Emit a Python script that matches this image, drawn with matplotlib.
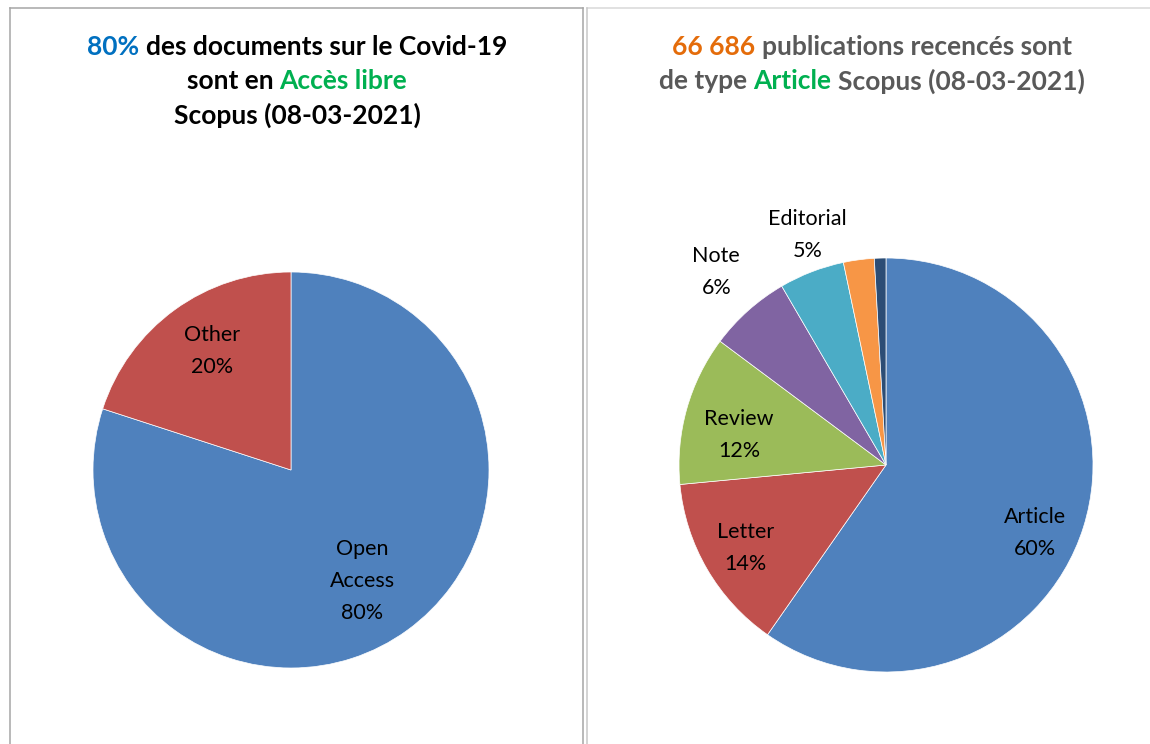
import matplotlib.pyplot as plt
from matplotlib.lines import Line2D

# data
oa_labels = ["Open\nAccess", "Other"]
oa_values = [80, 20]
oa_colors = ["#4F81BD", "#C0504D"]

type_labels = ["Article", "Letter", "Review", "Note", "Editorial", "", ""]
type_values = [59.7, 13.8, 11.7, 6.4, 5.1, 2.4, 0.9]
type_colors = ["#4F81BD", "#C0504D", "#9BBB59", "#8064A2", "#4BACC6", "#F79646", "#2C4D75"]
type_pct = ["60%", "14%", "12%", "6%", "5%", "", ""]
oa_pct = ["80%", "20%"]

# label positions (in units of pie radius)
oa_label_xy = [(0.36, -0.56), (-0.40, 0.60)]
type_label_xy = [(0.72, -0.33), (-0.68, -0.40), (-0.71, 0.145), (-0.82, 0.93), (-0.38, 1.11)]

W, H = 1150, 744
FONT = "Lato"
LS = 15.5   # label size
fig = plt.figure(figsize=(W / 100, H / 100), dpi=100)


def px_axes(cx, cy, r):
    # axes in pixel coords (y from top)
    return fig.add_axes([(cx - r) / W, (H - cy - r) / H, 2 * r / W, 2 * r / H])


# panel borders
def hline(x0, x1, y, c):
    fig.add_artist(Line2D([x0 / W, x1 / W], [1 - y / H, 1 - y / H], color=c, lw=1.1,
                          transform=fig.transFigure))


def vline(x, y0, y1, c):
    fig.add_artist(Line2D([x / W, x / W], [1 - y0 / H, 1 - y1 / H], color=c, lw=1.1,
                          transform=fig.transFigure))


hline(10, 583, 8, "#A6A6A6")
vline(10, 8, H, "#A6A6A6")
vline(583, 8, H, "#A6A6A6")
hline(587, W, 8, "#D9D9D9")
vline(587, 8, H, "#C8C8C8")

# left pie
ax1 = px_axes(291, 470, 198)
ax1.pie(oa_values, colors=oa_colors, startangle=90, counterclock=False,
        wedgeprops=dict(edgecolor="white", linewidth=0.5))
ax1.set_xlim(-1, 1)
ax1.set_ylim(-1, 1)
for lab, pct, (x, y) in zip(oa_labels, oa_pct, oa_label_xy):
    ax1.text(x, y, lab + "\n" + pct, ha="center", va="center", fontsize=LS,
             family=FONT, linespacing=1.75, color="#000000")

# right pie
ax2 = px_axes(886, 465, 207)
ax2.pie(type_values, colors=type_colors, startangle=90, counterclock=False,
        wedgeprops=dict(edgecolor="white", linewidth=0.5))
ax2.set_xlim(-1, 1)
ax2.set_ylim(-1, 1)
for lab, pct, (x, y) in zip(type_labels, type_pct, type_label_xy):
    ax2.text(x, y, lab + "\n" + pct, ha="center", va="center", fontsize=LS,
             family=FONT, linespacing=1.75, color="#000000", clip_on=False)

# multi-coloured titles
renderer = fig.canvas.get_renderer()


def width_px(s, size):
    t = fig.text(0, 0, s, fontsize=size, family=FONT, weight="bold")
    w = t.get_window_extent(renderer).width
    t.remove()
    return w


def colored_line(parts, cx, cy, size):
    space = width_px("x x", size) - width_px("xx", size)
    widths = [width_px(p, size) for p, _ in parts]
    total = sum(widths) + space * (len(parts) - 1)
    x = cx - total / 2
    for (p, c), w in zip(parts, widths):
        fig.text(x / W, 1 - cy / H, p, fontsize=size, family=FONT, weight="bold",
                 color=c, ha="left", va="center")
        x += w + space


TS = 19
colored_line([("80%", "#0070C0"), ("des documents sur le Covid-19", "#000000")], 297, 47, TS)
colored_line([("sont en", "#000000"), ("Accès libre", "#00B050")], 297, 81, TS)
colored_line([("Scopus (08-03-2021)", "#000000")], 297, 115, TS)

colored_line([("66 686", "#E46C0A"), ("publications recencés sont", "#595959")], 872, 47, TS)
colored_line([("de type", "#595959"), ("Article", "#00B050"),
              ("Scopus (08-03-2021)", "#595959")], 872, 81, TS)

fig.savefig("out.png", dpi=100)
